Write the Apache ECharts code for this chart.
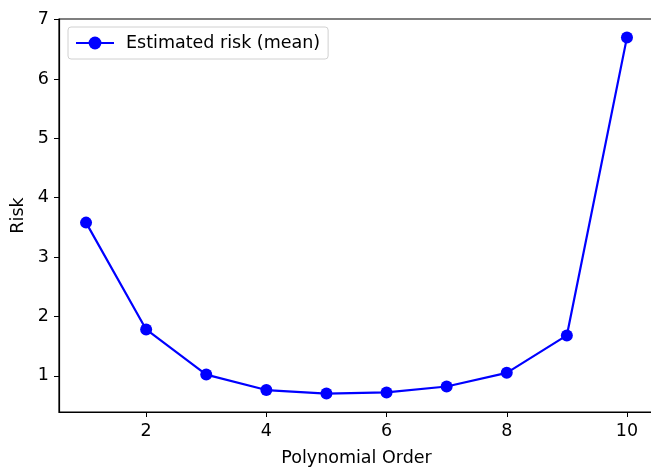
<!DOCTYPE html>
<html>
<head>
<meta charset="utf-8">
<script src="https://cdn.jsdelivr.net/npm/echarts@6/dist/echarts.min.js"></script>
<style>
html,body{margin:0;padding:0;background:#fff;}
#chart{width:651px;height:467px;}
</style>
</head>
<body>
<div id="chart"></div>
<script>
// 多项式阶数 vs 估计风险
const orders = [1, 2, 3, 4, 5, 6, 7, 8, 9, 10];
const riskMean = [3.58, 1.78, 1.02, 0.76, 0.70, 0.72, 0.82, 1.05, 1.68, 6.70];
const xTicks = [2, 4, 6, 8, 10];
const yTicks = [1, 2, 3, 4, 5, 6, 7];

const font = 'DejaVu Sans';
const fs = 17.5;
let mycharts = echarts.init(document.getElementById('chart'));
let option = {
    animation: false,
    textStyle: { fontFamily: font },
    grid: {
        left: 59,
        right: -3,
        top: 19,
        bottom: 55,
        show: true,
        borderColor: '#000',
        borderWidth: 1.2,
        containLabel: false,
        outerBoundsMode: 'none'
    },
    legend: {
        left: 68,
        top: 27,
        data: ['Estimated risk (mean)'],
        itemWidth: 38,
        itemHeight: 16,
        itemGap: 10,
        padding: [6, 8, 6, 7],
        borderColor: '#d0d0d0',
        borderWidth: 1,
        borderRadius: 3,
        backgroundColor: 'rgba(255,255,255,0.8)',
        textStyle: { fontFamily: font, fontSize: fs, color: '#000', lineHeight: 20, padding: [0, 0, 0, 7] }
    },
    xAxis: {
        type: 'value',
        min: 0.55,
        max: 10.45,
        name: 'Polynomial Order',
        nameLocation: 'middle',
        nameGap: 37,
        nameTextStyle: { fontFamily: font, fontSize: fs, color: '#000' },
        splitLine: { show: false },
        axisLine: { lineStyle: { color: '#000', width: 1.2 } },
        axisTick: { show: true, length: 5, customValues: xTicks, lineStyle: { color: '#000' } },
        axisLabel: { customValues: xTicks, margin: 10, fontSize: fs, color: '#000', fontFamily: font }
    },
    yAxis: {
        type: 'value',
        min: 0.39,
        max: 7.01,
        name: 'Risk',
        nameLocation: 'middle',
        nameGap: 32,
        nameRotate: 90,
        nameTextStyle: { fontFamily: font, fontSize: fs, color: '#000' },
        splitLine: { show: false },
        axisLine: { show: true, lineStyle: { color: '#000', width: 1.2 } },
        axisTick: { show: true, length: 5, customValues: yTicks, lineStyle: { color: '#000' } },
        axisLabel: { customValues: yTicks, margin: 10, fontSize: fs, color: '#000', fontFamily: font }
    },
    series: [
        {
            name: 'Estimated risk (mean)',
            type: 'line',
            data: orders.map((o, i) => [o, riskMean[i]]),
            symbol: 'circle',
            symbolSize: 12,
            itemStyle: { color: '#0000ff' },
            lineStyle: { color: '#0000ff', width: 2.2 }
        }
    ]
};
mycharts.setOption(option, true);
</script>
</body>
</html>
